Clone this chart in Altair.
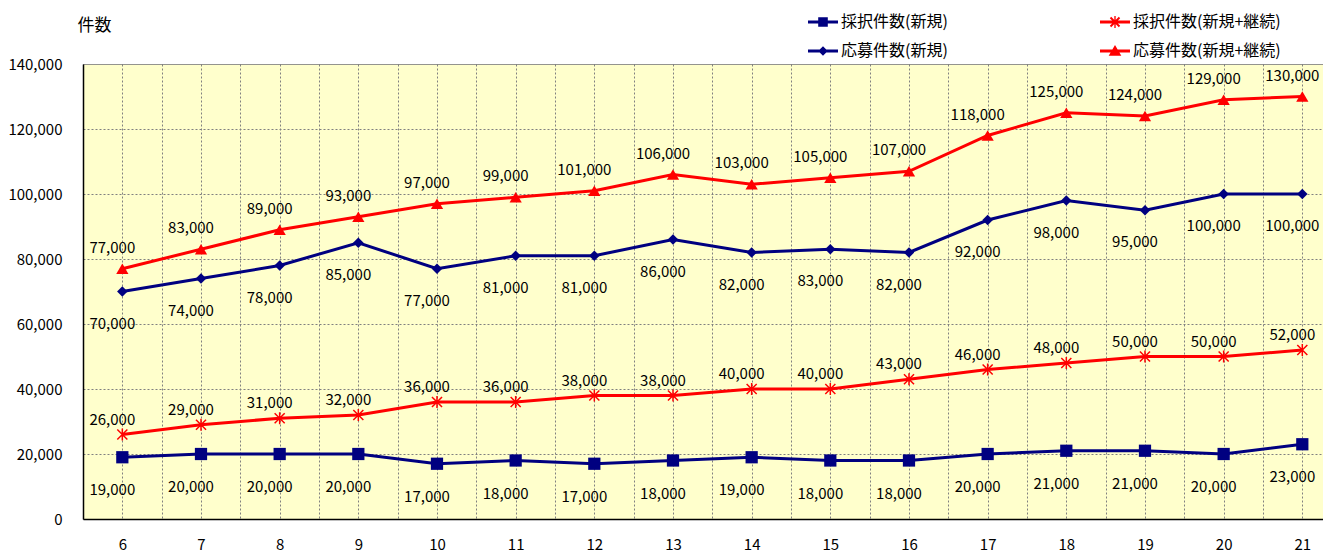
import altair as alt
import pandas as pd

# ---- data ----
years = list(range(6, 22))
saitaku_new = [19000, 20000, 20000, 20000, 17000, 18000, 17000, 18000,
               19000, 18000, 18000, 20000, 21000, 21000, 20000, 23000]
saitaku_total = [26000, 29000, 31000, 32000, 36000, 36000, 38000, 38000,
                 40000, 40000, 43000, 46000, 48000, 50000, 50000, 52000]
oubo_new = [70000, 74000, 78000, 85000, 77000, 81000, 81000, 86000,
            82000, 83000, 82000, 92000, 98000, 95000, 100000, 100000]
oubo_total = [77000, 83000, 89000, 93000, 97000, 99000, 101000, 106000,
              103000, 105000, 107000, 118000, 125000, 124000, 129000, 130000]
y_ticks = [0, 20000, 40000, 60000, 80000, 100000, 120000, 140000]

names = ["採択件数(新規)", "採択件数(新規+継続)", "応募件数(新規)", "応募件数(新規+継続)"]
series_values = [saitaku_new, saitaku_total, oubo_new, oubo_total]

NAVY = "#000080"
RED = "#FF0000"
colors = [NAVY, RED, NAVY, RED]
FONT = "Noto Sans CJK JP"

rows = []
for name, vals in zip(names, series_values):
    for yr, v in zip(years, vals):
        rows.append({"year": yr, "value": v, "series": name})
df = pd.DataFrame(rows)

XMIN, XMAX = 5.5, 21.263
half_ticks = [5.5 + 0.5 * i for i in range(32) if 5.5 + 0.5 * i <= XMAX]

x_scale = alt.Scale(domain=[XMIN, XMAX], nice=False, zero=False)
y_scale = alt.Scale(domain=[0, 140000], nice=False, zero=True)

x_axis = alt.Axis(orient="bottom", values=half_ticks, grid=True,
                  gridColor="#808080", gridDash=[2, 2], gridWidth=1,
                  ticks=False, domain=True, domainColor="black", domainWidth=1.5,
                  labelExpr="datum.value % 1 === 0 ? format(datum.value, 'd') : ''",
                  labelFontSize=15, labelFontWeight="normal", labelPadding=18,
                  labelColor="black", labelFont=FONT, labelFlush=False,
                  labelOverlap=False, title=None)
x_enc = alt.X("year:Q", scale=x_scale, axis=x_axis)

y_axis = alt.Axis(values=y_ticks, format=",.0f", grid=True,
                  gridColor={"condition": {"test": "datum.value === 140000", "value": "#707070"},
                             "value": "#808080"},
                  gridDash={"condition": {"test": "datum.value === 140000", "value": [1, 0]},
                            "value": [2, 2]},
                  gridWidth=1, ticks=False, domain=True,
                  domainColor="black", domainWidth=1.5, labelFontSize=15,
                  labelFontWeight="normal", labelPadding=21, labelColor="black",
                  labelFont=FONT, labelFlush=False, title="件数", titleAngle=0,
                  titleAlign="left", titleBaseline="middle", titleX=-6, titleY=-39,
                  titleFontSize=17, titleFontWeight="normal", titleColor="black",
                  titleFont=FONT)
y_enc = alt.Y("value:Q", scale=y_scale, axis=y_axis)

# legend symbols: line segment + marker (unit = 15px with symbolSize 900)
LINE = "M-1,-0.1H1V0.1H-1Z"
SQUARE = LINE + "M-0.32,-0.32H0.32V0.32H-0.32Z"
ASTER = (LINE + "M-0.255,-0.345L0.345,0.255L0.255,0.345L-0.345,-0.255Z"
         "M-0.345,0.255L0.255,-0.345L0.345,-0.255L-0.255,0.345Z"
         "M-0.045,-0.4H0.045V0.4H-0.045Z")
DIAMOND = LINE + "M0,-0.32L0.32,0L0,0.32L-0.32,0Z"
TRIANGLE = LINE + "M0,-0.4L0.42,0.32L-0.42,0.32Z"
paths = [SQUARE, ASTER, DIAMOND, TRIANGLE]

# legend fills column by column: left column = 新規, right column = 新規+継続
legend_order = [0, 2, 1, 3]
legend_names = [names[i] for i in legend_order]
legend_colors = [colors[i] for i in legend_order]
legend_paths = [paths[i] for i in legend_order]

legend = alt.Legend(title=None, orient="none", legendX=725, legendY=-57, columns=2,
                    columnPadding=152, rowPadding=6, symbolSize=900,
                    symbolStrokeWidth=0, labelFontSize=16, labelFont=FONT,
                    labelColor="black", labelOffset=3, padding=0)

legend_layer = alt.Chart(df).mark_point(filled=True, opacity=1).encode(
    x=x_enc, y=y_enc,
    color=alt.Color("series:N", scale=alt.Scale(domain=legend_names, range=legend_colors),
                    legend=legend),
    shape=alt.Shape("series:N", scale=alt.Scale(domain=legend_names, range=legend_paths),
                    legend=legend),
).transform_filter("false")

marker_specs = {
    names[0]: dict(shape="square", filled=True, size=150, strokeWidth=0),
    names[1]: dict(shape="M-0.75,-0.75L0.75,0.75M-0.75,0.75L0.75,-0.75M0,-0.9L0,0.9",
                   filled=False, size=180, strokeWidth=1.5),
    names[2]: dict(shape="diamond", filled=True, size=110, strokeWidth=0),
    names[3]: dict(shape="triangle-up", filled=True, size=150, strokeWidth=0),
}
label_dy = {names[0]: 33, names[1]: -15, names[2]: 32, names[3]: -21}

line_layers, point_layers, text_layers = [], [], []
for name, col in zip(names, colors):
    base = alt.Chart(df).transform_filter(alt.datum.series == name)
    line_layers.append(base.mark_line(color=col, strokeWidth=3).encode(x=x_enc, y=y_enc))
    point_layers.append(base.mark_point(color=col, opacity=1, **marker_specs[name])
                        .encode(x=x_enc, y=y_enc))
    text_layers.append(base.mark_text(fontSize=15, font=FONT, color="black",
                                      dx=-10, dy=label_dy[name])
                       .encode(x=x_enc, y=y_enc,
                               text=alt.Text("value:Q", format=",")))

chart = alt.layer(legend_layer, *line_layers, *point_layers, *text_layers).properties(
    width=1240, height=455,
    padding={"left": 75, "top": 56, "right": 0, "bottom": 33},
    autosize=alt.AutoSizeParams(type="none"),
).configure(font=FONT).configure_view(fill="#FFFFCC", stroke="transparent")

chart.save("out.html", embed_options={"renderer": "svg", "actions": False})
